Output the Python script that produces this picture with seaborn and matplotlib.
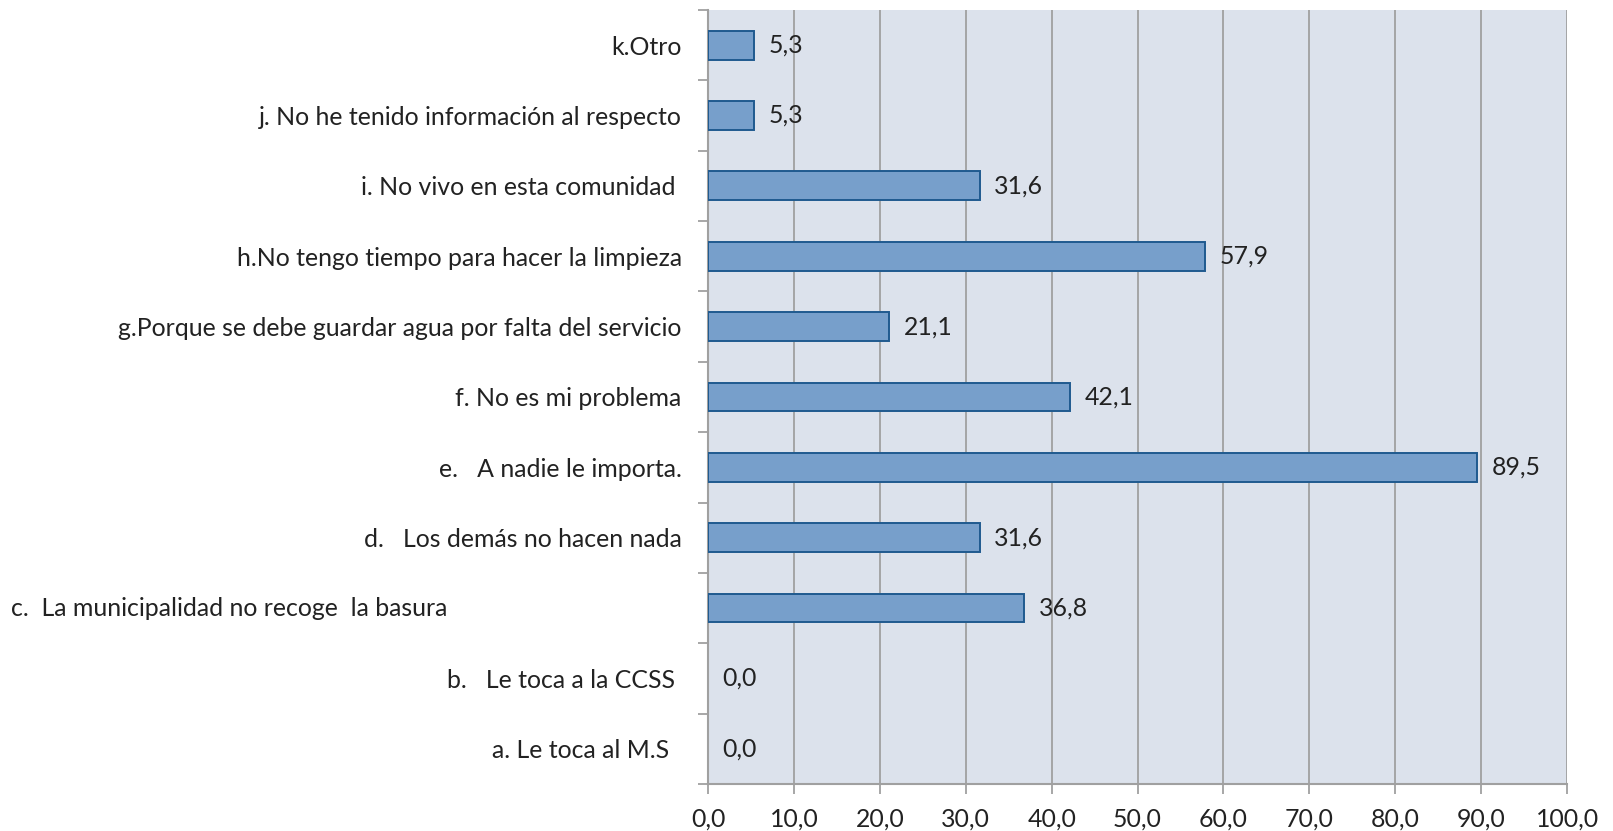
import matplotlib
matplotlib.use("Agg")
import matplotlib.pyplot as plt
import matplotlib.transforms as mtransforms
import seaborn as sns
import pandas as pd

categories = [
    "k.Otro",
    "j. No he tenido información al respecto",
    "i. No vivo en esta comunidad ",
    "h.No tengo tiempo para hacer la limpieza",
    "g.Porque se debe guardar agua por falta del servicio",
    "f. No es mi problema",
    "e.   A nadie le importa.",
    "d.   Los demás no hacen nada",
    "c.  La municipalidad no recoge  la basura",
    "b.   Le toca a la CCSS ",
    "a. Le toca al M.S  ",
]
values = [5.3, 5.3, 31.6, 57.9, 21.1, 42.1, 89.5, 31.6, 36.8, 0.0, 0.0]
x_ticks = [0, 10, 20, 30, 40, 50, 60, 70, 80, 90, 100]

FS = 17.9


def fmt(v):
    return f"{v:.1f}".replace(".", ",")


def main():
    sns.set_theme(style="white")
    plt.rcParams['font.family'] = ['Lato', 'DejaVu Sans']

    df = pd.DataFrame({"cat": categories, "val": values})

    fig = plt.figure(figsize=(16.13, 8.31), dpi=100)
    ax = fig.add_axes([0.439, 0.0566, 0.5325, 0.9314])
    ax.set_facecolor("#DCE2EC")

    sns.barplot(data=df, y="cat", x="val", orient="h", color="#779FCB",
                edgecolor="#1F5A8F", linewidth=1.4, width=0.41,
                saturation=1, ax=ax, zorder=3)
    # no outline for empty bars
    for p in ax.patches:
        if p.get_width() == 0:
            p.set_linewidth(0)

    ax.set_xlim(0, 100)
    ax.set_ylim(len(categories) - 0.5, -0.5)
    ax.set_xticks(x_ticks)
    ax.set_xticklabels([fmt(t) for t in x_ticks], fontsize=FS, color="#222222")
    ax.grid(axis="x", color="#A0A0A0", linewidth=1.3, zorder=0)
    ax.set_axisbelow(True)

    # y ticks at category boundaries, labels at centers
    ax.set_yticks([i - 0.5 for i in range(len(categories) + 1)], minor=False)
    ax.set_yticklabels([])
    ax.set_yticks(range(len(categories)), minor=True)
    labels = [c if not c.startswith("c.") else "" for c in categories]
    ax.set_yticklabels(labels, minor=True, fontsize=FS, color="#222222")
    ax.tick_params(axis="y", which="minor", length=0, pad=19)
    ax.tick_params(axis="y", which="major", length=7, width=1.3,
                   color="#A0A0A0", direction="out", left=True)
    ax.tick_params(axis="x", length=7, width=1.3, color="#A0A0A0",
                   direction="out", bottom=True, pad=10)

    # label c is left aligned near the left edge of the figure
    trans = mtransforms.blended_transform_factory(fig.transFigure, ax.transData)
    for i, c in enumerate(categories):
        if c.startswith("c."):
            ax.text(0.007, i, c, transform=trans, ha="left", va="center",
                    fontsize=FS, color="#222222")

    for spine in ["top", "right"]:
        ax.spines[spine].set_visible(False)
    for spine in ["left", "bottom"]:
        ax.spines[spine].set_color("#A0A0A0")
        ax.spines[spine].set_linewidth(1.5)

    ax.set_xlabel("")
    ax.set_ylabel("")

    for i, v in enumerate(values):
        ax.text(v + 1.7, i, fmt(v), ha="left", va="center",
                fontsize=FS, color="#222222", zorder=4)

    fig.savefig("out.png", dpi=100)
    plt.close(fig)


if __name__ == "__main__":
    main()
